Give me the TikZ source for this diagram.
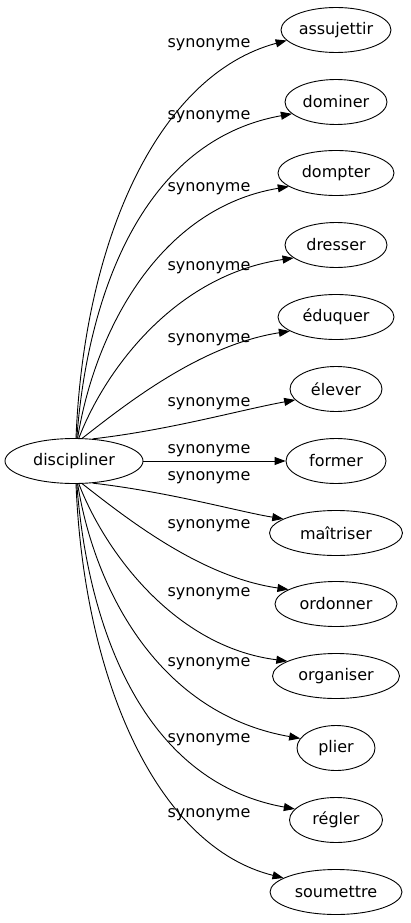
\documentclass[tikz,border=0pt]{standalone}
\usepackage{fontspec}
\setmainfont{DejaVu Sans}
\usetikzlibrary{shapes.geometric,arrows.meta}
\tikzset{
  term/.style={draw, ellipse, inner sep=0pt, minimum height=45pt, line width=0.9pt, font=\fontsize{16}{18}\selectfont},
  lbl/.style={inner sep=0pt, font=\fontsize{16}{18}\selectfont},
  edge/.style={line width=0.9pt, -{Triangle[length=11pt,width=8pt]}}
}
\begin{document}
\begin{tikzpicture}[x=1pt,y=-1pt]
\useasboundingbox (0,0) rectangle (410,923);
\node[term, minimum width=138pt] (d) at (74,461) {discipliner};
\node[term, minimum width=110pt] (t1) at (336,30) {assujettir};
\node[term, minimum width=102pt] (t2) at (336,102) {dominer};
\node[term, minimum width=116pt] (t3) at (336,173) {dompter};
\node[term, minimum width=102pt] (t4) at (336,245) {dresser};
\node[term, minimum width=116pt] (t5) at (336,317) {éduquer};
\node[term, minimum width=92pt] (t6) at (336,389) {élever};
\node[term, minimum width=100pt] (t7) at (336,461) {former};
\node[term, minimum width=133pt] (t8) at (336,533) {maîtriser};
\node[term, minimum width=122pt] (t9) at (336,604) {ordonner};
\node[term, minimum width=127pt] (t10) at (336,676) {organiser};
\node[term, minimum width=78pt] (t11) at (336,748) {plier};
\node[term, minimum width=93pt] (t12) at (336,820) {régler};
\node[term, minimum width=132pt] (t13) at (336,892) {soumettre};

\draw[edge] (d.85) .. controls (84,240) and (158,75) .. (t1.192);
\draw[edge] (d.83) .. controls (88,290) and (145,140) .. (t2.195);
\draw[edge] (d.81) .. controls (95,330) and (160,208) .. (t3.196);
\draw[edge] (d.78) .. controls (105,370) and (175,275) .. (t4.197);
\draw[edge] (d.70) .. controls (125,405) and (200,345) .. (t5.197);
\draw[edge] (d.50) .. controls (170,430) and (240,410) .. (t6.195);
\draw[edge] (d.east) -- (t7.west);
\draw[edge] (d.-50) .. controls (170,492) and (240,512) .. (t8.165);
\draw[edge] (d.-70) .. controls (125,517) and (200,577) .. (t9.163);
\draw[edge] (d.-78) .. controls (105,552) and (175,647) .. (t10.163);
\draw[edge] (d.-81) .. controls (95,592) and (160,714) .. (t11.165);
\draw[edge] (d.-83) .. controls (88,632) and (145,782) .. (t12.165);
\draw[edge] (d.-85) .. controls (84,682) and (158,847) .. (t13.165);

\node[lbl] (l1) at (209,45) {synonyme};
\node[lbl] (l2) at (209,117) {synonyme};
\node[lbl] (l3) at (209,189) {synonyme};
\node[lbl] (l4) at (209,268) {synonyme};
\node[lbl] (l5) at (209,340) {synonyme};
\node[lbl] (l6) at (209,404) {synonyme};
\node[lbl] (l7) at (209,451) {synonyme};
\node[lbl] (l8) at (209,478) {synonyme};
\node[lbl] (l9) at (209,526) {synonyme};
\node[lbl] (l10) at (209,594) {synonyme};
\node[lbl] (l11) at (209,664) {synonyme};
\node[lbl] (l12) at (209,740) {synonyme};
\node[lbl] (l13) at (209,815) {synonyme};
\end{tikzpicture}
\end{document}
